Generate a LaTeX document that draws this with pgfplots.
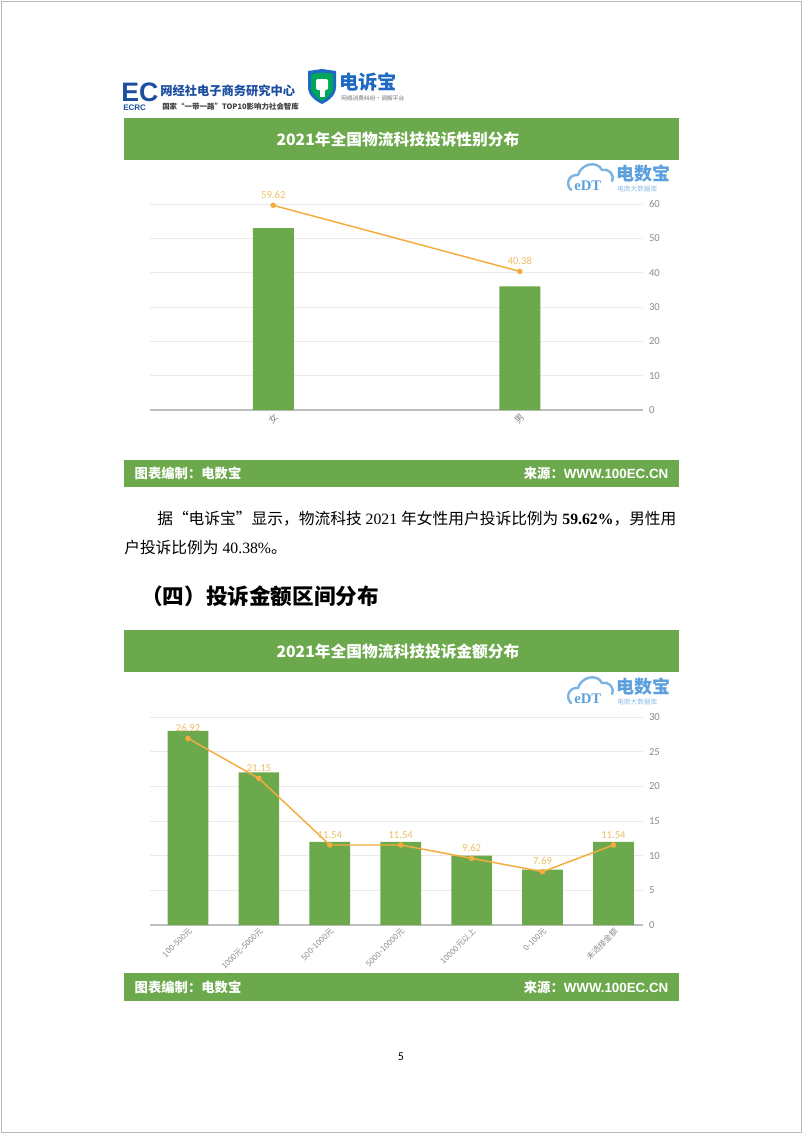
\documentclass[border=0pt]{standalone}
\usepackage{pgfplots}
\pgfplotsset{compat=1.18}
\usepackage{fontspec}
\setmainfont{Liberation Serif}
\newfontfamily\cjk{Noto Sans CJK SC}
\newfontfamily\carl{Carlito}
\newfontfamily\arial{Liberation Sans}
\definecolor{barg}{RGB}{108,169,76}
\definecolor{lineor}{RGB}{245,172,62}
\definecolor{labor}{RGB}{238,190,100}
\definecolor{tickgray}{RGB}{140,140,140}
\definecolor{gridgray}{RGB}{234,234,234}
\definecolor{axgray}{RGB}{190,190,190}
\definecolor{hdrblue}{RGB}{28,78,160}
\definecolor{edtblue}{RGB}{90,160,222}
\definecolor{sbblue}{RGB}{30,105,195}

\newcommand{\edtlogo}[2]{%
 \begin{scope}[shift={(#1,#2)}]
  \draw[edtblue!80, line width=1.8pt, line cap=round]
    (6,30) .. controls (0,24) and (4,14) .. (13,15)
    .. controls (16,4) and (32,0) .. (37,10)
    .. controls (43,8) and (50,14) .. (47,21);
  \node[anchor=west, inner sep=0, text=edtblue, font=\bfseries\fontsize{11}{11}\selectfont] at (9,26) {eDT};
  \node[anchor=west, inner sep=0, text=edtblue, font=\cjk\bfseries\fontsize{13.5}{14}\selectfont] at (51,14) {电数宝};
  \node[anchor=west, inner sep=0, text=edtblue!70, font=\cjk\fontsize{5}{5}\selectfont] at (52,29) {电商大数据库};
 \end{scope}}

\pgfplotsset{
 mychart/.style={
  scale only axis, width=369.75pt,
  /pgf/number format/assume math mode=true,
  axis x line=bottom, axis y line=right,
  axis line style={-},
  x axis line style={draw=axgray, line width=0.9pt},
  y axis line style={draw=none},
  major tick length=0pt,
  ymajorgrids, grid style={gridgray, line width=0.7pt},
  ymin=0,
  yticklabel style={font=\carl\fontsize{8}{8}\selectfont, text=tickgray, xshift=1pt},
  xticklabel style={rotate=45, anchor=north east, text=tickgray, inner sep=1pt},
  xtick=data,
  clip=false,
 },
 mybar/.style={ybar, bar width=#1, fill=barg, draw=none},
 myline/.style={lineor, line width=1.1pt, mark=*, mark size=1.5pt,
  mark options={fill=lineor, draw=lineor},
  point meta=y, nodes near coords={\pgfmathprintnumber[fixed,fixed zerofill,precision=2,assume math mode=true]{\pgfplotspointmeta}},
  every node near coord/.append style={font=\carl\fontsize{8}{8}\selectfont, text=labor, anchor=south, inner sep=1pt, yshift=3.5pt}},
}

\begin{document}
\begin{tikzpicture}[x=0.75pt,y=-0.75pt]
\fill[white] (0,0) rectangle (802,1133);
\draw[gray!55, line width=0.6pt] (1,1) rectangle (801,1132);
\coordinate (cA) at (150,410);
\coordinate (cB) at (150,925);

% ---------- header ----------
\node[anchor=west, inner sep=0, text=hdrblue, font=\arial\bfseries\fontsize{20}{20}\selectfont] at (121,92) {EC};
\node[anchor=west, inner sep=0, text=hdrblue, font=\arial\bfseries\fontsize{6}{6}\selectfont] at (123,108) {ECRC};
\node[anchor=west, inner sep=0, text=hdrblue, font=\cjk\bfseries\fontsize{9.2}{10}\selectfont] at (160,91) {网经社电子商务研究中心};
\node[anchor=west, inner sep=0, text=black!75, font=\cjk\bfseries\fontsize{5.6}{6}\selectfont] at (162,107) {国家“一带一路”TOP10影响力社会智库};
\fill[sbblue] (308,71) -- (322,69) -- (336,71) -- (336,87) .. controls (336,97) and (326,102) .. (322,104) .. controls (318,102) and (308,97) .. (308,87) -- cycle;
\fill[teal!70!green] (311,74) -- (322,72.5) -- (333,74) -- (333,87) .. controls (333,95) and (325,99) .. (322,101) .. controls (319,99) and (311,95) .. (311,87) -- cycle;
\fill[white, rounded corners=1.5pt] (316,79) rectangle (328,90);
\fill[white] (319.5,90) rectangle (325,97);
\node[anchor=west, inner sep=0, text=sbblue, font=\cjk\bfseries\fontsize{14.5}{15}\selectfont] at (339,82) {电诉宝};
\node[anchor=west, inner sep=0, text=black!55, font=\cjk\fontsize{4.3}{5}\selectfont] at (341,98) {网络消费纠纷·调解平台};

% ---------- chart 1 frame ----------
\fill[barg] (124,118) rectangle (679,160);
\node[text=white, font=\cjk\bfseries\fontsize{11.8}{12}\selectfont] at (398,139) {2021年全国物流科技投诉性别分布};
\edtlogo{565}{160}
\fill[barg] (124,460) rectangle (679,487);
\node[anchor=west, text=white, font=\cjk\bfseries\fontsize{10}{10}\selectfont] at (130,473.5) {图表编制：电数宝};
\node[anchor=east, text=white, font=\bfseries\fontsize{10}{10}\selectfont] at (673,473.5) {{\cjk 来源：}{\arial WWW.100EC.CN}};

\begin{axis}[mychart, at={(cA)}, anchor=south west,
  height=154.5pt, xmin=-0.5, xmax=1.5, ymax=60, ytick={0,10,...,60},
  xticklabels={女,男}, xticklabel style={font=\cjk\fontsize{7}{7}\selectfont}]
\addplot[mybar=30.75pt] coordinates {(0,53) (1,36)};
\addplot[myline] coordinates {(0,59.62) (1,40.38)};
\end{axis}

% ---------- body text ----------
\node[anchor=west, inner sep=0, font=\fontsize{11.8}{12}\selectfont] at (157,519) {{\cjk 据“电诉宝”显示，物流科技} 2021 {\cjk 年女性用户投诉比例为} \textbf{59.62\%}{\cjk ，男性用}};
\node[anchor=west, inner sep=0, font=\fontsize{11.8}{12}\selectfont] at (124,548) {{\cjk 户投诉比例为} 40.38\%{\cjk 。}};
\node[anchor=west, inner sep=0, font=\cjk\bfseries\fontsize{16.2}{17}\selectfont] at (141,596) {（四）投诉金额区间分布};

% ---------- chart 2 frame ----------
\fill[barg] (124,630) rectangle (679,672);
\node[text=white, font=\cjk\bfseries\fontsize{11.8}{12}\selectfont] at (398,651) {2021年全国物流科技投诉金额分布};
\edtlogo{565}{673}
\fill[barg] (124,973) rectangle (679,1001);
\node[anchor=west, text=white, font=\cjk\bfseries\fontsize{10}{10}\selectfont] at (130,987) {图表编制：电数宝};
\node[anchor=east, text=white, font=\bfseries\fontsize{10}{10}\selectfont] at (673,987) {{\cjk 来源：}{\arial WWW.100EC.CN}};

\begin{axis}[mychart, at={(cB)}, anchor=south west,
  height=156pt, xmin=-0.536, xmax=6.417, ymax=30, ytick={0,5,...,30},
  xticklabels={100-500元,1000元-5000元,500-1000元,5000-10000元,10000元以上,0-100元,未选择金额},
  xticklabel style={font=\cjk\fontsize{6}{6.5}\selectfont}]
\addplot[mybar=30.5pt] coordinates {(0,28) (1,22) (2,12) (3,12) (4,10) (5,8) (6,12)};
\addplot[myline] coordinates {(0,26.92) (1,21.15) (2,11.54) (3,11.54) (4,9.62) (5,7.69) (6,11.54)};
\end{axis}

\node[font=\carl\fontsize{9}{9}\selectfont] at (401,1057) {5};
\end{tikzpicture}
\end{document}
